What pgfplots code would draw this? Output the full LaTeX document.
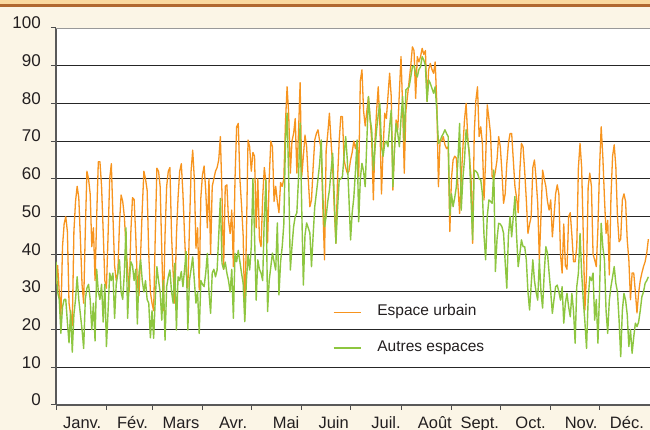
\documentclass[border=0pt]{standalone}
\usepackage{fontspec}
\setmainfont{Liberation Sans}
\usepackage{pgfplots}
\pgfplotsset{compat=1.18}
\usepackage{pgfplotstable}
\definecolor{cream}{RGB}{251,245,230}
\definecolor{bandorange}{RGB}{250,217,160}
\definecolor{bandbrown}{RGB}{176,104,48}
\definecolor{urb}{RGB}{247,148,30}
\definecolor{aut}{RGB}{141,198,63}
\definecolor{txt}{RGB}{35,31,32}

\pgfplotstableread[row sep=\\]{
d u a\\
0 32 38\\ 1 37 30\\ 2 30 28\\ 3 23 19\\ 4 42 26\\ 5 48 28\\ 6 50 28\\ 7 46 22\\ 8 27 16.5\\ 9 24 25\\
10 21 14\\ 11 46 24\\ 12 54 28\\ 13 58 34\\ 14 55 28\\ 15 44 24\\ 16 32 20\\ 17 27 15\\ 18 46 28\\ 19 62 31\\
20 60 32\\ 21 56 28\\ 22 42 20\\ 23 47 27\\ 24 33 17\\ 25 50 36\\ 26 64.5 30\\ 27 64.5 28\\ 28 58 32\\ 29 46 22\\
30 33 32\\ 31 31 15.5\\ 32 45 25\\ 33 60 35\\ 34 64 33\\ 35 50 35\\ 36 37 23\\ 37 33 32\\ 38 35 35\\ 39 48 38.5\\
40 55.7 30\\ 41 54 28\\ 42 50 35\\ 43 42 47\\ 44 36 23\\ 45 30 33\\ 46 46 38\\ 47 55 37\\ 48 54.5 33\\ 49 45 36\\
50 32 21.5\\ 51 29 35\\ 52 40 38.5\\ 53 52 33\\ 54 62 30\\ 55 60 33\\ 56 57 28\\ 57 40 27\\ 58 30 17.8\\ 59 27 25\\
60 25 17.7\\ 61 45 28\\ 62 62.8 36.7\\ 63 62 33\\ 64 58 30\\ 65 41 22.5\\ 66 25 33\\ 67 45 17.2\\ 68 58 31.4\\ 69 62 34\\
70 63 35.8\\ 71 45 30\\ 72 35 27\\ 73 27 37.6\\ 74 45 19.9\\ 75 55 34\\ 76 62 33\\ 77 64 35.4\\ 78 56 31.4\\ 79 45 36\\
80 35 40.7\\ 81 31 19.9\\ 82 47 33\\ 83 62 36\\ 84 67.6 39.3\\ 85 60 33\\ 86 41.6 27\\ 87 47 30\\ 88 30.5 19\\ 89 55 33\\
90 61 32\\ 91 63.4 31.4\\ 92 57 35\\ 93 47 40.2\\ 94 60 30\\ 95 40 24.3\\ 96 58 35\\ 97 60 36\\ 98 62 34\\ 99 63 35.8\\
100 65 45\\ 101 71.2 54.8\\ 102 56 37.6\\ 103 36 36\\ 104 58 37.9\\ 105 58.4 35\\ 106 49 33\\ 107 45.5 30\\ 108 51.7 36\\ 109 36.7 23\\
110 60 40.2\\ 111 73.8 38\\ 112 74.7 41\\ 113 60 38\\ 114 53 35\\ 115 45 32.3\\ 116 23 22.1\\ 117 45 33\\ 118 70.3 39.8\\ 119 68.5 35.8\\
120 62 42\\ 121 67 60\\ 122 66 45\\ 123 47 27.8\\ 124 60 38.5\\ 125 44 36\\ 126 42 35\\ 127 55 33\\ 128 63 50\\ 129 59 59.7\\
130 43 24.8\\ 131 60 33\\ 132 70 36.7\\ 133 68.5 40.3\\ 134 54 38\\ 135 58 35.8\\ 136 54 48.3\\ 137 51 29.2\\ 138 59 38\\ 139 58 42\\
140 60 48\\ 141 75 70\\ 142 84.4 77.4\\ 143 77 60\\ 144 61.5 35.8\\ 145 70 42\\ 146 72 47.3\\ 147 76 50\\ 148 61.5 51\\ 149 72 60\\
150 85.5 74.8\\ 151 60.6 52\\ 152 66 31.8\\ 153 71.6 45\\ 154 68.5 48.3\\ 155 60 47\\ 156 52.6 45.6\\ 157 54.4 36.7\\ 158 63 45\\ 159 70.3 52.6\\
160 72 56.2\\ 161 73 60\\ 162 70 64\\ 163 67.6 70.3\\ 164 52 55\\ 165 38.5 47.3\\ 166 67.6 50\\ 167 72 54\\ 168 77.4 57\\ 169 70 62\\
170 63.2 66.8\\ 171 52 55\\ 172 42.9 42.9\\ 173 60 52\\ 174 70 59.7\\ 175 76.5 60\\ 176 76.5 60.6\\ 177 65 66\\ 178 63 71.2\\ 179 61.5 65\\
180 62 55\\ 181 65 43.8\\ 182 67 51\\ 183 70 55\\ 184 68 62\\ 185 70 70.3\\ 186 60.6 48.6\\ 187 86 60\\ 188 88.9 64.1\\ 189 78 62\\
190 74 57.9\\ 191 78 70\\ 192 81.8 81.8\\ 193 76 76\\ 194 70 73\\ 195 54.4 62.3\\ 196 70 68\\ 197 78 73\\ 198 84.4 77\\ 199 74.7 80\\
200 56 68.5\\ 201 68 66\\ 202 77.4 69.4\\ 203 76 70\\ 204 82 68.5\\ 205 88 74\\ 206 81.8 78.2\\ 207 57 57.9\\ 208 68 68\\ 209 75.6 74.7\\
210 73 72\\ 211 83 68.5\\ 212 92.4 76\\ 213 79 81.8\\ 214 61.5 70\\ 215 78 83.6\\ 216 82 84\\ 217 86 84.4\\ 218 90 87\\ 219 95 89.7\\
220 94 90\\ 221 81.3 88\\ 222 92.4 87\\ 223 91 89\\ 224 92.4 89.7\\ 225 94.6 92.4\\ 226 93 91.5\\ 227 94 90\\ 228 80.5 80.5\\ 229 89 86.2\\
230 90.6 85.3\\ 231 89 84\\ 232 88 82.7\\ 233 91 84.4\\ 234 80 78\\ 235 57.9 69.4\\ 236 70.3 70\\ 237 70 71.2\\ 238 71.2 72\\ 239 69 73\\
240 68 72\\ 241 68.5 71.2\\ 242 46 50.4\\ 243 60 56\\ 244 65 52.6\\ 245 66 55\\ 246 65.5 57.9\\ 247 58 65\\ 248 50.8 74.7\\ 249 60 51.7\\
250 68 60\\ 251 75.6 65\\ 252 80 73\\ 253 71.2 70\\ 254 66 66.8\\ 255 60.6 55\\ 256 42.9 43.8\\ 257 72 62.3\\ 258 80.8 62\\ 259 84.4 61.5\\
260 71.2 60\\ 261 73.8 59.7\\ 262 69.4 56.1\\ 263 54.4 45\\ 264 65 38.5\\ 265 79.6 50\\ 266 76 54.4\\ 267 72 54\\ 268 60.6 53.5\\ 269 59.7 62.3\\
270 62 35.4\\ 271 65 44\\ 272 71.2 48.2\\ 273 68.5 48\\ 274 62 47.3\\ 275 53.5 45.6\\ 276 56 38\\ 277 64 31\\ 278 69.4 45\\ 279 72 50\\
280 72 44.6\\ 281 65 50\\ 282 58 55.3\\ 283 55 45\\ 284 51 36.7\\ 285 62 40\\ 286 69.4 43.8\\ 287 68.5 42\\ 288 62 42\\ 289 54.4 38.5\\
290 45.5 30\\ 291 48 25.2\\ 292 50 32\\ 293 63 38.5\\ 294 65 33\\ 295 60 30\\ 296 53.5 27.8\\ 297 38.5 38.5\\ 298 50 30\\ 299 62.3 25.7\\
300 60 35\\ 301 58 42\\ 302 54 40.3\\ 303 51.7 35\\ 304 54.4 30\\ 305 44.6 24.3\\ 306 50 28\\ 307 56 31.4\\ 308 58.4 31.8\\ 309 56 30\\
310 40 27.8\\ 311 35 31.4\\ 312 48 21.7\\ 313 37 27\\ 314 36 29.6\\ 315 50 26\\ 316 51 23.4\\ 317 45 29.6\\ 318 38 25\\ 319 38 16.4\\
320 42 31.4\\ 321 63 35\\ 322 69.4 45.5\\ 323 63 35\\ 324 45 27.8\\ 325 25.2 22\\ 326 35 15\\ 327 57.9 28\\ 328 61.5 34\\ 329 58 33\\
330 40 35\\ 331 38.5 22.5\\ 332 36.7 28\\ 333 47 16.4\\ 334 63 30\\ 335 73.8 48.2\\ 336 66 42\\ 337 55 38.5\\ 338 45.5 25\\ 339 49 19\\
340 34.5 27.8\\ 341 55 31.4\\ 342 66 34\\ 343 69 36.7\\ 344 63.2 32.3\\ 345 50 30\\ 346 43.3 22.5\\ 347 44 12.8\\ 348 54.4 25\\ 349 56 29.6\\
350 54 27.8\\ 351 43.8 24\\ 352 38.5 15.5\\ 353 27.9 20\\ 354 35 13.7\\ 355 35 18\\ 356 30 21.7\\ 357 24.4 20.8\\ 358 29.7 22\\ 359 33 25\\
360 35 28.7\\ 361 36.7 30\\ 362 38 32.3\\ 363 40.3 33\\ 364 44 34\\
}\data

\begin{document}
\begin{tikzpicture}
\fill[cream] (0pt,0pt) rectangle (650pt,430pt);
\fill[bandbrown] (0pt,423pt) rectangle (650pt,426pt);
\fill[bandorange] (0pt,426pt) rectangle (650pt,430pt);
\useasboundingbox (0pt,0pt) rectangle (650pt,430pt);
\begin{axis}[
  at={(56pt,25pt)}, anchor=south west,
  scale only axis, width=594pt, height=377pt,
  xmin=0, xmax=365, ymin=0, ymax=100,
  axis background/.style={fill=white},
  axis lines*=left,
  axis line style={draw=black!65, line width=1.4pt},
  tick align=outside,
  tick style={draw=black!70, line width=1pt},
  major tick length=5pt,
  ytick={0,10,...,90},
  extra y ticks={100},
  extra y tick style={ymajorgrids=true, grid style={draw=black!40, line width=0.9pt}},
  ymajorgrids,
  grid style={draw=black!85, line width=0.9pt},
  xtick={0,31,59,90,120,151,181,212,243,273,304,334},
  xticklabels={},
  extra x ticks={16.1,47,76.8,108.8,141.4,170.6,202.8,232.8,260.4,291.6,322.7,350.8},
  extra x tick labels={Janv.,Fév.,Mars,Avr.,Mai,Juin,Juil.,Août,Sept.,Oct.,Nov.,Déc.},
  extra x tick style={major tick length=0pt},
  /pgf/number format/assume math mode=true,
  yticklabel style={font=\fontsize{17pt}{19pt}\selectfont, text=txt, anchor=east, inner sep=0pt, xshift=-10pt, yshift=5pt},
  xticklabel style={font=\fontsize{16.5pt}{18pt}\selectfont, text=txt, anchor=north, inner sep=0pt, text height=12pt, text depth=2pt, yshift=-11pt},
  legend style={at={(rel axis cs:0.466,0.272)}, anchor=north west, draw=none, fill=none, inner sep=0pt,
    font=\fontsize{15.5pt}{17pt}\selectfont, text=txt, row sep=19pt,
    /tikz/every odd column/.append style={column sep=14pt}},
  legend cell align=left,
  legend image code/.code={\draw[#1] (0pt,-1.5pt) -- (27pt,-1.5pt);},
]
\addplot[urb, line width=1.3pt, line join=round, mark=none] table[x=d, y=u] {\data};
\addlegendentry{Espace urbain}
\addplot[aut, line width=1.4pt, line join=round, mark=none] table[x=d, y=a] {\data};
\addlegendentry{Autres espaces}
\end{axis}
\end{tikzpicture}
\end{document}
